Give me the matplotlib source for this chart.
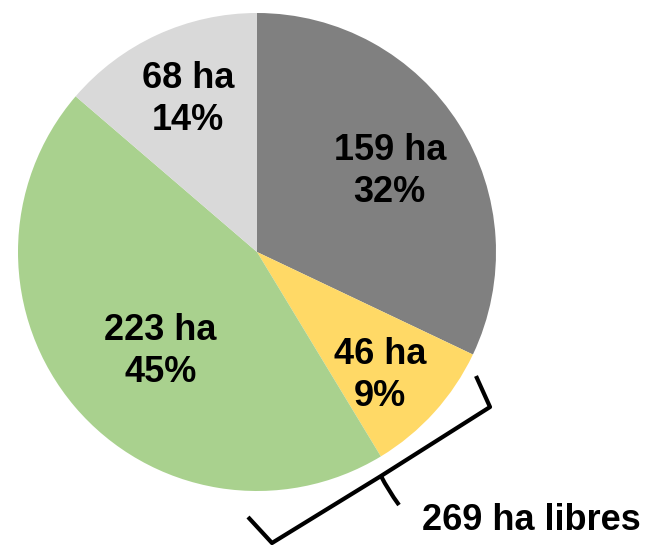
import numpy as np
import matplotlib
matplotlib.use("Agg")
import matplotlib.pyplot as plt
from matplotlib.path import Path
from matplotlib.patches import PathPatch

plt.rcParams['font.family'] = ['Liberation Sans', 'DejaVu Sans']

# data
areas_ha = [159, 46, 223, 68]
percents = [32, 9, 45, 14]
colors = ['#808080', '#FFD966', '#A9D18E', '#D9D9D9']
bracket_label = "269 ha libres"

# label placement style (radius fraction, angle tweak in degrees)
label_r = [0.65, 0.73, 0.58, 0.70]
label_dang = [-1.0, -3.0, 5.5, -0.4]

W, H = 650, 545
fig = plt.figure(figsize=(W / 100, H / 100), dpi=100)
cx, cy, R = 257, 252, 239
ax = fig.add_axes([(cx - R) / W, (H - cy - R) / H, 2 * R / W, 2 * R / H])

wedges, _ = ax.pie(areas_ha, colors=colors, startangle=90, counterclock=False,
                   radius=1.0, wedgeprops=dict(linewidth=0))
ax.set_xlim(-1, 1)
ax.set_ylim(-1, 1)
ax.set_aspect('equal')
ax.axis('off')

for w, a, p, r, da in zip(wedges, areas_ha, percents, label_r, label_dang):
    ang = np.deg2rad((w.theta1 + w.theta2) / 2 + da)
    ax.text(r * np.cos(ang), r * np.sin(ang), f"{a} ha\n{p}%",
            ha='center', va='center', fontsize=26, fontweight='bold',
            linespacing=1.25, color='black')

# curly bracket in figure pixel coordinates
def fp(x, y):
    return (x / W, 1 - y / H)

verts = [fp(248, 517), fp(272, 543), fp(381, 476), fp(490, 407), fp(476, 376)]
codes = [Path.MOVETO] + [Path.LINETO] * 4
fig.add_artist(PathPatch(Path(verts, codes), fill=False, lw=3.0, ec='black',
                         joinstyle='round', capstyle='butt',
                         transform=fig.transFigure))
tip = [fp(381, 476), fp(388, 490), fp(399, 505)]
fig.add_artist(PathPatch(Path(tip, [Path.MOVETO, Path.CURVE3, Path.CURVE3]),
                         fill=False, lw=3.0, ec='black', capstyle='butt',
                         transform=fig.transFigure))

fig.text(531 / W, 1 - 530 / H, bracket_label, ha='center', va='baseline',
         fontsize=26, fontweight='bold', color='black')

fig.savefig('out.png', dpi=100)
